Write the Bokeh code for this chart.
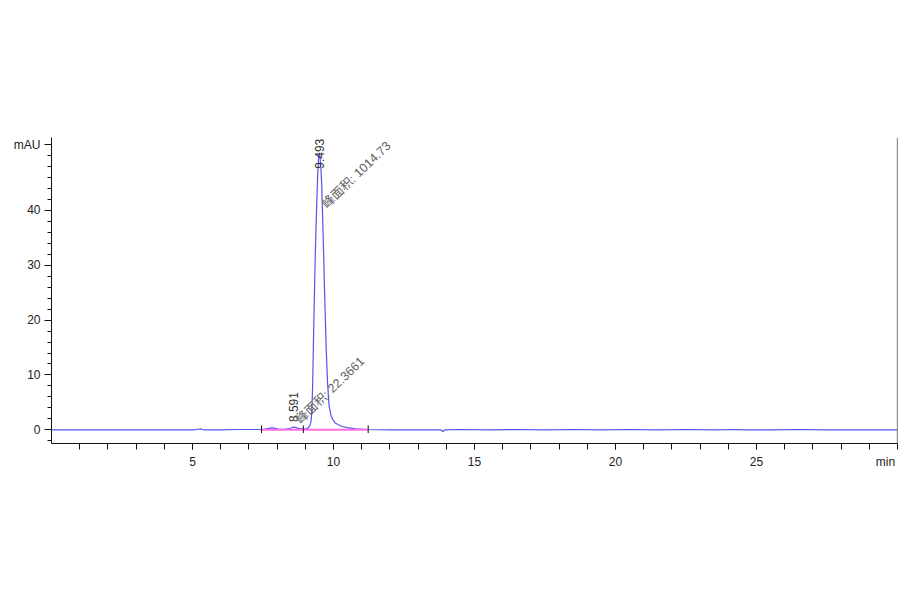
from bokeh.plotting import figure
from bokeh.models import Range1d, FixedTicker, Span, ColumnDataSource
from bokeh.core.properties import value
from bokeh.embed import file_html
from bokeh.resources import INLINE
import math

# ---- data (time in min, signal in mAU) ----
times = [0.0, 2.0, 4.0, 5.0, 5.2, 5.3, 5.4, 6.0, 6.6, 7.0, 7.5, 7.65, 7.8, 7.9, 8.05,
         8.25, 8.45, 8.55, 8.62, 8.72, 8.85, 8.95, 9.05, 9.10, 9.16, 9.20, 9.23,
         9.26, 9.30, 9.35, 9.40, 9.44, 9.47, 9.493, 9.52, 9.55, 9.58, 9.63, 9.69,
         9.74, 9.79, 9.84, 9.90, 9.96, 10.05, 10.14, 10.30, 10.54, 10.80, 11.20,
         12.0, 13.0, 13.8, 13.88, 13.95, 14.5, 15.5, 16.5, 17.5, 18.5, 19.5, 20.5,
         21.5, 22.5, 23.5, 24.3, 24.6, 25.5, 26.5, 27.5, 28.5, 29.5, 30.0]
signal = [0.0, 0.0, 0.0, 0.0, 0.1, 0.15, 0.0, 0.0, 0.05, 0.05, 0.05, 0.2, 0.35, 0.3, 0.12,
          0.1, 0.2, 0.45, 0.5, 0.3, 0.15, 0.12, 0.2, 0.35, 0.7, 1.5, 3.0,
          8.0, 19.0, 31.0, 40.5, 46.5, 49.5, 50.5, 49.8, 48.0, 45.0, 36.0, 24.0,
          15.0, 8.5, 4.5, 2.8, 2.0, 1.3, 1.0, 0.6, 0.35, 0.15, 0.05,
          0.0, 0.0, 0.0, -0.3, 0.0, 0.05, 0.0, 0.05, 0.0, 0.05, 0.0, 0.05,
          0.0, 0.05, 0.0, 0.05, 0.0, 0.0, 0.05, 0.0, 0.0, 0.0, 0.0]

# integrated peaks
peak_rt = [8.591, 9.493]
peak_area = [22.3661, 1014.73]
peak_start = [7.45, 8.93]
peak_end = [8.93, 11.23]
start_level = [0.0, 0.0]
end_level = [0.0, 0.0]

x_major = [5, 10, 15, 20, 25]
y_major = [0, 10, 20, 30, 40]
x_unit = "min"
y_unit = "mAU"

FONT = "Liberation Sans"
CJK = "Liberation Sans, Noto Sans CJK SC"

p = figure(width=898, height=560, output_backend="svg", toolbar_location=None,
           x_range=Range1d(0, 30), y_range=Range1d(-2.5, 53.3),
           min_border_left=51, min_border_right=1, min_border_top=137,
           min_border_bottom=117)
p.outline_line_color = None
p.xgrid.visible = False
p.ygrid.visible = False
p.background_fill_color = "white"
p.border_fill_color = "white"

# axes
xa = p.xaxis[0]
xa.ticker = FixedTicker(ticks=x_major + [30], minor_ticks=list(range(1, 30)))
xa.major_label_overrides = {30: x_unit + "\u00a0"}
xa.major_tick_in = 0
xa.major_tick_out = 6
xa.minor_tick_in = 0
xa.minor_tick_out = 6
xa.major_label_standoff = 5
xa.major_label_text_font = FONT
xa.major_label_text_font_size = "12px"
xa.major_label_text_color = "#222222"
xa.axis_line_color = "#111111"
xa.major_tick_line_color = "#111111"
xa.minor_tick_line_color = "#111111"

ya = p.yaxis[0]
ya.ticker = FixedTicker(ticks=y_major + [52], minor_ticks=list(range(-2, 53, 2)))
ya.major_label_overrides = {52: y_unit}
ya.major_tick_in = 0
ya.major_tick_out = 7
ya.minor_tick_in = 0
ya.minor_tick_out = 4
ya.major_label_standoff = 4
ya.major_label_text_font = FONT
ya.major_label_text_font_size = "12px"
ya.major_label_text_color = "#222222"
ya.axis_line_color = "#111111"
ya.major_tick_line_color = "#111111"
ya.minor_tick_line_color = "#111111"

# right border line
p.add_layout(Span(location=30, dimension="height", line_color="#222222", line_width=1.2))

# chromatogram trace
p.line(times, signal, line_color="#5454f0", line_width=1.2)

# integration baselines
p.segment(x0=peak_start, y0=start_level, x1=peak_end, y1=end_level,
          line_color="#ff6ee6", line_width=2)

# peak boundary marks
bx = [peak_start[0], peak_start[1], peak_end[1]]
by = [start_level[0], start_level[1], end_level[1]]
p.segment(x0=bx, y0=[v - 0.6 for v in by], x1=bx, y1=[v + 0.8 for v in by],
          line_color="#111111", line_width=1)

# retention time labels (vertical)
rt_src = ColumnDataSource(dict(x=peak_rt, y=[1.4, 47.6],
                               t=[f"{r:.3f}" for r in peak_rt]))
p.text(x="x", y="y", text="t", source=rt_src, angle=math.pi / 2,
       text_align="left", text_baseline="middle", text_font=value(FONT),
       text_font_size="12px", text_color="#333333")

# area labels (diagonal)
ar_src = ColumnDataSource(dict(x=[peak_rt[0] + 0.15, peak_rt[1] + 0.18], y=[1.5, 40.8],
                               t=[f"峰面积: {a:g}" for a in peak_area]))
p.text(x="x", y="y", text="t", source=ar_src, angle=math.radians(44),
       text_align="left", text_baseline="middle", text_font=value(CJK),
       text_font_size="12.5px", text_color="#626262")

open("out.html", "w").write(file_html(p, INLINE))
